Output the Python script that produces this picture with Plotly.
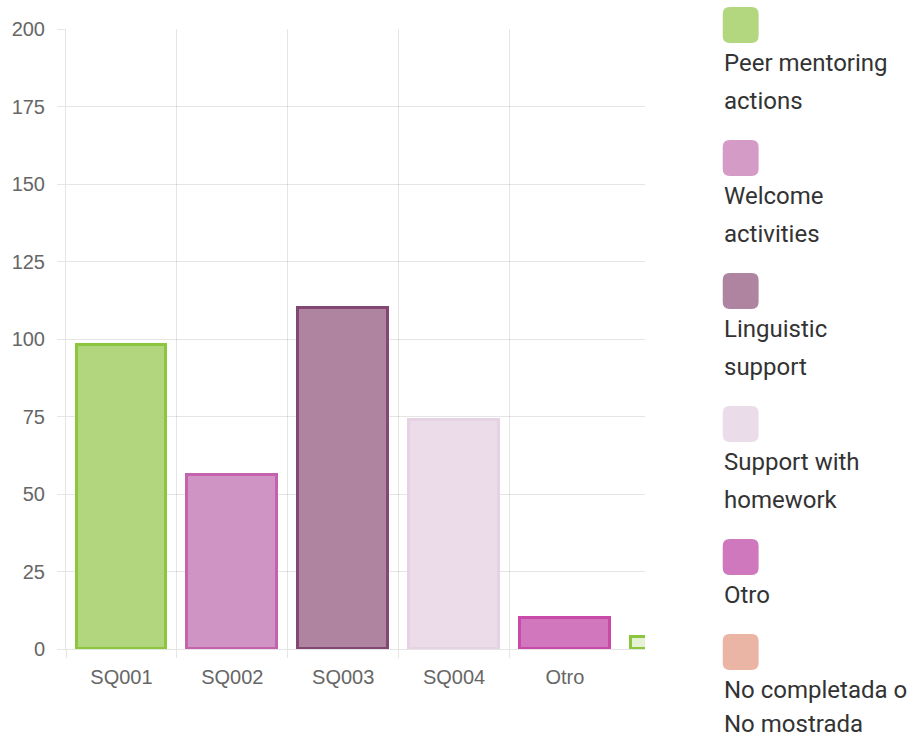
import textwrap
import plotly.graph_objects as go

# ---- data ----
categories = ["SQ001", "SQ002", "SQ003", "SQ004", "Otro", "No completada o No mostrada"]
values = [98, 56, 110, 74, 10, 4]
bar_fill = ["#b1d67e", "#d094c4", "#ae84a0", "#ecdcea", "#d077be", "#e4f1d5"]
bar_border = ["#8cc63e", "#c462ad", "#834872", "#e5d2e2", "#c94aa8", "#8cc63e"]

legend_labels = ["Peer mentoring actions", "Welcome activities", "Linguistic support",
                 "Support with homework", "Otro", "No completada o No mostrada"]
legend_colors = ["#b3d77e", "#d39bc6", "#ae84a0", "#ebdce9", "#cf78bd", "#ebb5a5"]

y_ticks = [0, 25, 50, 75, 100, 125, 150, 175, 200]

# ---- layout geometry (pixels) ----
W, H = 916, 740
L, R, T, B = 64, 645, 29, 649
GRID = "rgba(0,0,0,0.1)"


def px_x(p):
    return (p - L) / (R - L)


def px_y(p):
    return (B - p) / (B - T)


x_pos = list(range(len(categories)))

fig = go.Figure()
fig.add_trace(go.Bar(
    x=x_pos, y=values, width=0.81,
    marker=dict(color=bar_fill, line=dict(color=bar_border, width=3)),
    showlegend=False, hoverinfo="x+y",
))

shapes = []
annotations = []
sq = 36
rad = 7
top = 7
for lab, col in zip(legend_labels, legend_colors):
    x0, x1 = 723, 723 + sq
    y0, y1 = top, top + sq
    pts = (f"M {px_x(x0+rad)},{px_y(y0)} L {px_x(x1-rad)},{px_y(y0)} "
           f"Q {px_x(x1)},{px_y(y0)} {px_x(x1)},{px_y(y0+rad)} "
           f"L {px_x(x1)},{px_y(y1-rad)} Q {px_x(x1)},{px_y(y1)} {px_x(x1-rad)},{px_y(y1)} "
           f"L {px_x(x0+rad)},{px_y(y1)} Q {px_x(x0)},{px_y(y1)} {px_x(x0)},{px_y(y1-rad)} "
           f"L {px_x(x0)},{px_y(y0+rad)} Q {px_x(x0)},{px_y(y0)} {px_x(x0+rad)},{px_y(y0)} Z")
    shapes.append(dict(type="path", xref="paper", yref="paper", path=pts,
                       fillcolor=col, line=dict(width=0), layer="above"))
    lines = textwrap.wrap(lab, 15)
    cy = top + 56
    for ln in lines:
        yc = min(cy, H - 16)
        annotations.append(dict(
            text=ln, xref="paper", yref="paper", x=px_x(723), y=px_y(yc),
            xanchor="left", yanchor="middle", showarrow=False, borderpad=0,
            font=dict(family="Roboto", size=24, color="#333333"),
        ))
        cy += 38
    top = cy - 38 + 39

fig.update_layout(
    width=W, height=H,
    margin=dict(l=L, r=W - R, t=T, b=H - B),
    paper_bgcolor="white", plot_bgcolor="white",
    shapes=shapes, annotations=annotations,
    bargap=0,
    xaxis=dict(
        range=[-0.5, -0.5 + (R - L) / 111.25],
        tickmode="array", tickvals=x_pos, ticktext=categories,
        showgrid=False, zeroline=False,
        showline=True, linecolor=GRID, linewidth=1,
        ticks="", ticklabelstandoff=10,
        tickfont=dict(family="Liberation Sans", size=20, color="#666666"),
        minor=dict(tickmode="array", tickvals=[-0.5, 0.5, 1.5, 2.5, 3.5],
                   showgrid=True, gridcolor=GRID, gridwidth=1,
                   ticks="outside", ticklen=8, tickcolor=GRID),
        fixedrange=True,
    ),
    yaxis=dict(
        range=[0, 200], tickmode="array", tickvals=y_ticks,
        showgrid=True, gridcolor=GRID, gridwidth=1, zeroline=False,
        showline=True, linecolor=GRID, linewidth=1,
        ticks="outside", ticklen=8, tickcolor=GRID,
        ticklabelstandoff=8,
        tickfont=dict(family="Liberation Sans", size=20, color="#666666"),
        fixedrange=True,
    ),
)

fig.write_html("out.html")
